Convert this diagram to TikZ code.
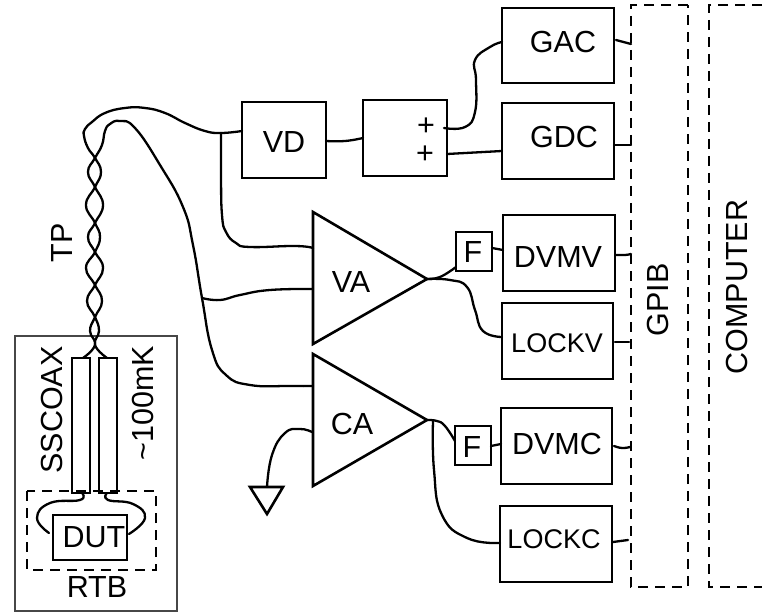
\documentclass[tikz,border=0pt]{standalone}
\usepackage{fontspec}
\setmainfont{Liberation Sans}
\tikzset{
  boxn/.style={draw=black,line width=2.6pt,inner sep=0pt,outer sep=0pt},
  lab/.style={inner sep=0pt,font=\fontsize{30.5}{33}\selectfont},
  labs/.style={inner sep=0pt,font=\fontsize{27}{30}\selectfont},
  wire/.style={line width=2.3pt,line cap=round,line join=round},
  dashbox/.style={line width=2.4pt,dash pattern=on 10pt off 7pt},
  tri/.style={line width=2.6pt,line join=miter}
}
\newcommand{\bx}[5]{\node[boxn,minimum width={(#4-#2)*1pt},minimum height={(#5-#3)*1pt}] (#1) at ({(#2+#4)/2},{(#3+#5)/2}) {};}
\newcommand{\wire}[1]{\draw[wire] plot[smooth,tension=.8] coordinates {#1};}
\begin{document}
\begin{tikzpicture}[x=1pt,y=-1pt]
\useasboundingbox (0,0) rectangle (762,612);
\fill[white] (0,0) rectangle (762,612);
% cryostat
\node[draw=black!72,line width=2pt,inner sep=0pt,outer sep=0pt,minimum width=162pt,minimum height=275pt] (cryo) at (95.5,473.5) {};
% boxes
\bx{gac}{502}{8}{614}{83}
\bx{gdc}{502}{103}{614}{179}
\bx{vd}{242}{102}{326}{178}
\bx{sum}{363}{100}{447}{176}
\bx{fone}{456}{232}{492}{271}
\bx{dvmv}{503}{215}{615}{291}
\bx{lockv}{502}{303}{613}{379}
\bx{ftwo}{455}{426}{491}{465}
\bx{dvmc}{501}{408}{612}{484}
\bx{lockc}{500}{506}{612}{582}
\bx{coaxl}{72}{358}{90}{493}
\bx{coaxr}{99}{358}{117}{493}
\bx{dut}{53}{515}{127}{560}
% dashed
\draw[dashbox] (688,5) -- (631,5) -- (631,587) -- (688,587) -- cycle;
\draw[dashbox] (762,5) -- (709,5) -- (709,587) -- (762,587);
\draw[dashbox] (27,491) rectangle (156,570);
% triangles
\coordinate (vaa) at (313,212); \coordinate (vab) at (313,344); \coordinate (vatip) at (427,279);
\coordinate (caa) at (313,354); \coordinate (cab) at (313,486); \coordinate (catip) at (427,420);
\draw[tri] (vaa) -- (vab) -- (vatip) -- cycle;
\draw[tri] (caa) -- (cab) -- (catip) -- cycle;
\coordinate (gnda) at (250,487); \coordinate (gndb) at (283,487); \coordinate (gndc) at (267,514);
\coordinate (gndtop) at (267,487);
\draw[tri] (gnda) -- (gndb) -- (gndc) -- cycle;
% labels
\node[lab] (tgac) at (563,42) {GAC};
\node[lab] (tgdc) at (564,137) {GDC};
\node[lab] (tvd) at (284,142) {VD};
\node[lab] (tp1) at (426,127) {+};
\node[lab] (tp2) at (425,155) {+};
\node[lab] (tdvmv) at (558,257) {DVMV};
\node[labs] (tlockv) at (557,343) {LOCKV};
\node[lab] (tdvmc) at (557,444) {DVMC};
\node[labs] (tlockc) at (554,539) {LOCKC};
\node[lab] (tf1) at (473,252) {F};
\node[lab] (tf2) at (472,447) {F};
\node[lab] (tva) at (351,282) {VA};
\node[lab] (tca) at (352,424) {CA};
\node[lab] (tdut) at (94,537) {DUT};
\node[lab] (trtb) at (97,587) {RTB};
\node[lab,rotate=90] (tss) at (52,410) {SSCOAX};
\node[lab,rotate=90] (tmk) at (143,403) {\char126 100mK};
\node[lab,rotate=90] (ttp) at (62,243) {TP};
\node[lab,rotate=90] (tgpib) at (658,300) {GPIB};
\node[lab,rotate=90] (tcomp) at (737,287) {COMPUTER};
% wires: twisted pair
\coordinate (cl) at (83,358); \coordinate (cr) at (107,358);
\coordinate (vdin) at (vd.west |- 0,131);
\coordinate (junA) at (221,133);
\coordinate (junB) at (202,298);
\wire{(cl) (95,345) (90,331) (95,317) (102,301) (95,285) (86,268) (95,252) (100,237) (95,223) (86,205) (95,187) (101,172) (95,158) (88,148) (84,136) (85,129) (92,122) (105,113) (125,108) (145,108) (165,113) (185,123) (205,131) (junA) (vdin)}
\wire{(cr) (95,345) (99,331) (95,317) (87,301) (95,285) (103,268) (95,252) (88,237) (95,223) (103,205) (95,187) (88,172) (95,158) (102,145) (105,131) (110,124) (120,121) (135,128) (160,165) (183,207) (193,245) (junB) (212,350) (226,375) (250,385) (290,386) (313,386)}
\wire{(junA) (221,175) (222,215) (226,232) (236,243) (250,247) (295,246) (313,248)}
\wire{(junB) (220,300) (240,295) (270,290) (313,289)}
\wire{(312,432) (300,429) (285,433) (272,455) (gndtop)}
% right side
\coordinate (gacin) at (gac.west |- 0,42);
\coordinate (gdcin) at (gdc.west |- 0,151);
\coordinate (sumin) at (sum.west |- 0,138);
\coordinate (sumo1) at (444,128);
\coordinate (sumo2) at (sum.east |- 0,154);
\wire{(vd.east |- 0,141) (345,141) (sumin)}
\wire{(sumo1) (465,127) (475,112) (476,80) (475,60) (490,47) (gacin)}
\wire{(sumo2) (gdcin)}
\wire{(vatip) (440,277) (fone.west |- 0,267)}
\wire{(vatip) (450,280) (467,287) (475,310) (483,331) (lockv.west |- 0,337)}
\wire{(catip) (437,421) (445,426) (ftwo.west |- 0,441)}
\wire{(433,421) (434,470) (442,515) (467,538) (lockc.west |- 0,543)}
\draw[wire] (fone.east |- 0,248) -- (dvmv.west |- 0,250);
\draw[wire] (ftwo.east |- 0,446) -- (dvmc.west |- 0,444);
% GPIB connections
\coordinate (g1) at (631,44); \coordinate (g2) at (631,145); \coordinate (g3) at (631,254);
\coordinate (g4) at (629,342); \coordinate (g5) at (630,447); \coordinate (g6) at (628,540);
\draw[wire] (616,40) -- (g1);
\draw[wire] (gdc.east |- 0,145) -- (g2);
\wire{(616,255) (625,255) (g3)}
\draw[wire] (615,342) -- (g4);
\wire{(614,446) (622,448) (g5)}
\draw[wire] (613,542) -- (g6);
% DUT leads
\wire{(82,493) (80,500) (50,503) (37,518) (49,533)}
\wire{(107,493) (108,500) (133,504) (145,518) (129,534)}
\end{tikzpicture}
\end{document}
